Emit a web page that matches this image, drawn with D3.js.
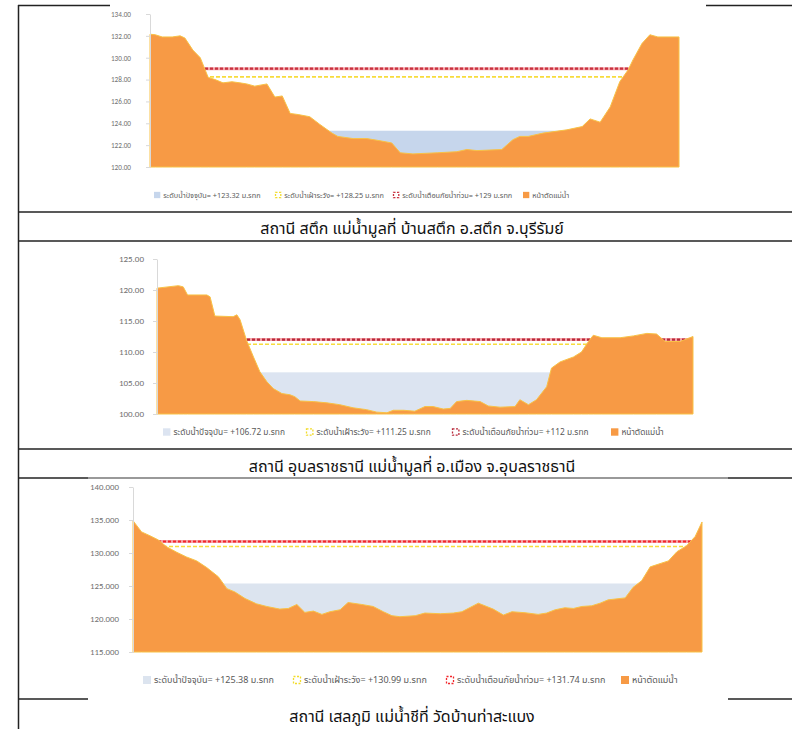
<!DOCTYPE html>
<html>
<head>
<meta charset="utf-8">
<script src="https://cdn.jsdelivr.net/npm/d3@7"></script>
<style>
  body { margin: 0; background: #fff; }
  svg { display: block; }
  text { font-family: "Noto Sans Thai", "Tahoma", "DejaVu Sans", sans-serif; }
</style>
</head>
<body>
<div id="chart"></div>
<script>
// station captions
var stationNames = [
  "สถานี สตึก แม่น้ำมูลที่ บ้านสตึก อ.สตึก จ.บุรีรัมย์",
  "สถานี อุบลราชธานี แม่น้ำมูลที่ อ.เมือง จ.อุบลราชธานี",
  "สถานี เสลภูมิ แม่น้ำชีที่ วัดบ้านท่าสะแบง"
];

// water levels (m. MSL)
var currentLevel = [123.32, 106.72, 125.38];
var watchLevel = [128.25, 111.25, 130.99];
var floodLevel = [129, 112, 131.74];

// y axis ticks
var ticks1 = [120, 122, 124, 126, 128, 130, 132, 134];
var ticks2 = [100, 105, 110, 115, 120, 125];
var ticks3 = [115, 120, 125, 130, 135, 140];

// cross sections: distance across (0-100) and bed elevation
var dist1 = [0, 1, 2.3, 4.2, 5.7, 6.6, 8.1, 9.5, 11, 12.3, 13.8, 15.5, 17, 18.3, 19.8, 22.1, 23.6, 25, 26.5, 28, 30.2, 32.1, 34.4, 35.5, 38.4, 41, 43.5, 45.7, 47.3, 49.7, 54.3, 58, 59.9, 61.8, 66.5, 68.6, 69.9, 71.5, 74.3, 78.8, 81.7, 83.2, 85.1, 87, 88.8, 90.4, 91.3, 93, 94.5, 96, 100];
var elev1 = [132.15, 132.1, 131.9, 131.9, 132.0, 131.8, 130.7, 130.0, 128.2, 128.0, 127.7, 127.8, 127.7, 127.6, 127.4, 127.6, 126.4, 126.5, 124.9, 124.8, 124.6, 123.9, 123.1, 122.8, 122.6, 122.6, 122.4, 122.2, 121.3, 121.2, 121.3, 121.4, 121.6, 121.5, 121.6, 122.5, 122.8, 122.8, 123.1, 123.4, 123.7, 124.4, 124.1, 125.5, 127.8, 128.9, 129.8, 131.3, 132.1, 131.9, 131.9];

var dist2 = [0, 4.0, 4.9, 5.7, 9.3, 9.9, 10.8, 14.2, 14.9, 15.5, 16.7, 18.0, 19.2, 20.5, 21.7, 23.3, 24.8, 25.7, 26.7, 29.2, 31.7, 34.1, 36.6, 39.1, 41.0, 42.9, 44.1, 46.0, 48.1, 50.0, 51.5, 53.4, 54.7, 55.9, 57.8, 60.3, 61.8, 64.0, 66.8, 67.7, 69.3, 70.8, 72.7, 73.6, 75.2, 77.7, 79.2, 80.5, 81.4, 83.0, 86.4, 88.9, 91.4, 93.2, 94.8, 97.6, 100];
var elev2 = [120.3, 120.7, 120.5, 119.2, 119.2, 118.9, 115.8, 115.7, 116.0, 115.2, 111.9, 109.2, 106.8, 105.2, 104.1, 103.3, 103.1, 102.8, 102.1, 102.0, 101.8, 101.5, 101.0, 100.7, 100.3, 100.2, 100.6, 100.6, 100.45, 101.2, 101.2, 100.8, 100.9, 102.0, 102.2, 102.0, 101.3, 101.1, 101.2, 102.3, 101.5, 102.3, 104.4, 107.4, 108.4, 109.2, 110.0, 111.7, 112.7, 112.3, 112.3, 112.6, 113.0, 112.9, 111.7, 111.7, 112.5];

var dist3 = [0, 1.5, 3.0, 4.4, 5.9, 7.7, 9.4, 11.2, 12.95, 15.0, 16.5, 17.9, 19.7, 21.7, 23.5, 25.8, 27.3, 28.8, 30.2, 31.7, 33.2, 34.6, 36.4, 37.8, 40.2, 42.2, 44.0, 45.5, 46.9, 49.6, 51.3, 54.0, 56.3, 57.8, 60.7, 63.3, 65.1, 66.6, 68.9, 71.2, 72.7, 74.2, 75.9, 77.4, 78.9, 80.6, 82.1, 83.5, 86.5, 87.9, 89.4, 90.9, 92.3, 94.1, 95.6, 97.3, 98.8, 100];
var elev3 = [134.9, 133.2, 132.6, 132.0, 130.95, 130.1, 129.4, 128.8, 127.8, 126.4, 124.6, 124.1, 123.1, 122.3, 121.9, 121.5, 121.6, 122.2, 121.0, 121.2, 120.7, 121.1, 121.4, 122.5, 122.2, 121.9, 121.1, 120.5, 120.35, 120.5, 120.9, 120.8, 120.9, 121.1, 122.4, 121.5, 120.6, 121.1, 120.95, 120.7, 120.9, 121.4, 121.7, 121.6, 121.9, 122.0, 122.4, 122.9, 123.2, 124.8, 125.8, 127.9, 128.3, 128.8, 130.2, 131.1, 132.5, 134.7];

// legend labels
var legendNow = "ระดับน้ำปัจจุบัน= +";
var legendWatch = "ระดับน้ำเฝ้าระวัง= +";
var legendFlood = "ระดับน้ำเตือนภัยน้ำท่วม= +";
var legendBed = "หน้าตัดแม่น้ำ";
var unit = " ม.รทก";

var svg = d3.select("#chart").append("svg")
  .attr("width", 792)
  .attr("height", 729);

// table lines
var tableLines = [
  [18, 5.5, 110, 5.5, "#222"], [706, 5.5, 792, 5.5, "#222"],
  [18, 212, 792, 212, "#222"], [18, 241, 792, 241, "#222"],
  [18, 449, 792, 449, "#222"],
  [18, 478, 88, 478, "#222"], [88, 478, 728, 478, "#777"], [728, 478, 792, 478, "#222"],
  [18, 699, 88, 699, "#222"], [728, 699, 792, 699, "#222"],
  [18.5, 5, 18.5, 729, "#222"]
];
svg.selectAll(".tline").data(tableLines).enter().append("line")
  .attr("x1", d => d[0]).attr("y1", d => d[1])
  .attr("x2", d => d[2]).attr("y2", d => d[3])
  .attr("stroke", d => d[4]).attr("stroke-width", 1.5);

// chart setups (positions only)
var charts = [
  { dist: dist1, elev: elev1, ticks: ticks1, fmt: ".2f", i: 0,
    left: 150, right: 679, top: 14, bottom: 167, tfs: 7.2, pad: 15, lfs: 7.3,
    blue: "#c6d6ec", red: "#c8313f",
    legY: 195, legX: [154, 275, 393, 523], capY: 228 },
  { dist: dist2, elev: elev2, ticks: ticks2, fmt: ".2f", i: 1,
    left: 157, right: 693, top: 259, bottom: 414, tfs: 9, pad: 9, lfs: 8.4,
    blue: "#dce4f1", red: "#b8283a",
    legY: 432, legX: [163, 306, 452, 611], capY: 466 },
  { dist: dist3, elev: elev3, ticks: ticks3, fmt: ".3f", i: 2,
    left: 133, right: 702, top: 487, bottom: 652, tfs: 8.8, pad: 10, lfs: 9,
    blue: "#dce4ef", red: "#f2262b",
    legY: 680, legX: [143, 293, 446, 621], capY: 716 }
];

charts.forEach(function (c) {
  var g = svg.append("g");
  var x = d3.scaleLinear()
    .domain(d3.extent(c.dist))
    .range([c.left, c.right]);
  var y = d3.scaleLinear()
    .domain(d3.extent(c.ticks))
    .range([c.bottom, c.top]);
  var x0 = x.domain()[0], x1 = x.domain()[1];

  // current water as a band behind the bed
  g.append("rect")
    .attr("x", x(x0)).attr("width", x(x1) - x(x0))
    .attr("y", y(currentLevel[c.i]))
    .attr("height", y(c.ticks[0]) - y(currentLevel[c.i]))
    .attr("fill", c.blue);

  // flood and watch levels
  var lvl = d3.line().x(d => x(d[0])).y(d => y(d[1]));
  g.append("path")
    .attr("d", lvl([[x0, floodLevel[c.i]], [x1, floodLevel[c.i]]]))
    .attr("stroke", "#f4a3a8").attr("stroke-width", 3).attr("fill", "none");
  g.append("path")
    .attr("d", lvl([[x0, floodLevel[c.i]], [x1, floodLevel[c.i]]]))
    .attr("stroke", c.red).attr("stroke-width", 2.2)
    .attr("stroke-dasharray", "3,2").attr("fill", "none");
  g.append("path")
    .attr("d", lvl([[x0, watchLevel[c.i]], [x1, watchLevel[c.i]]]))
    .attr("stroke", "#f7dc3c").attr("stroke-width", 1.6)
    .attr("stroke-dasharray", "4,2").attr("fill", "none");

  // river bed cross section
  var area = d3.area()
    .x((d, k) => x(c.dist[k]))
    .y0(y(c.ticks[0]))
    .y1(d => y(d));
  g.append("path")
    .datum(c.elev)
    .attr("d", area)
    .attr("fill", "#f79a45")
    .attr("stroke", "#f8c246")
    .attr("stroke-width", 1);

  // y axis
  var ax = g.append("g")
    .attr("transform", `translate(${c.left},0)`)
    .call(d3.axisLeft(y).tickValues(c.ticks).tickFormat(d3.format(c.fmt))
      .tickSize(4).tickSizeOuter(0).tickPadding(c.pad));
  ax.select(".domain").attr("stroke", "#d9d9d9");
  ax.selectAll(".tick line").attr("stroke", "#d9d9d9");
  ax.selectAll(".tick text")
    .attr("fill", "#6f6f6f")
    .style("font-family", "Calibri, Carlito, 'Liberation Sans', sans-serif")
    .style("font-size", c.tfs + "px");

  // legend
  var items = [
    { t: legendNow + currentLevel[c.i] + unit, kind: "blue" },
    { t: legendWatch + watchLevel[c.i] + unit, kind: "yellow" },
    { t: legendFlood + floodLevel[c.i] + unit, kind: "red" },
    { t: legendBed, kind: "orange" }
  ];
  items.forEach(function (it, k) {
    var lx = c.legX[k], ly = c.legY, s = c.lfs - 1;
    if (it.kind == "blue" || it.kind == "orange") {
      g.append("rect").attr("x", lx).attr("y", ly - s / 2).attr("width", s).attr("height", s)
        .attr("fill", it.kind == "blue" ? c.blue : "#f79a45");
    } else {
      g.append("rect").attr("x", lx + 0.5).attr("y", ly - s / 2 + 0.5).attr("width", s - 1).attr("height", s - 1)
        .attr("fill", "none")
        .attr("stroke", it.kind == "yellow" ? "#f2dc2a" : c.red)
        .attr("stroke-width", 1.3).attr("stroke-dasharray", "2,1.5");
    }
    g.append("text")
      .attr("x", lx + s + 3).attr("y", ly)
      .attr("dy", "0.35em")
      .attr("fill", "#595959")
      .style("font-size", c.lfs + "px")
      .text(it.t);
  });

  // caption
  svg.append("text")
    .attr("x", 412).attr("y", c.capY)
    .attr("dy", "0.35em")
    .attr("text-anchor", "middle")
    .attr("fill", "#111")
    .style("font-size", "16px")
    .text(stationNames[c.i]);
});
</script>
</body>
</html>
